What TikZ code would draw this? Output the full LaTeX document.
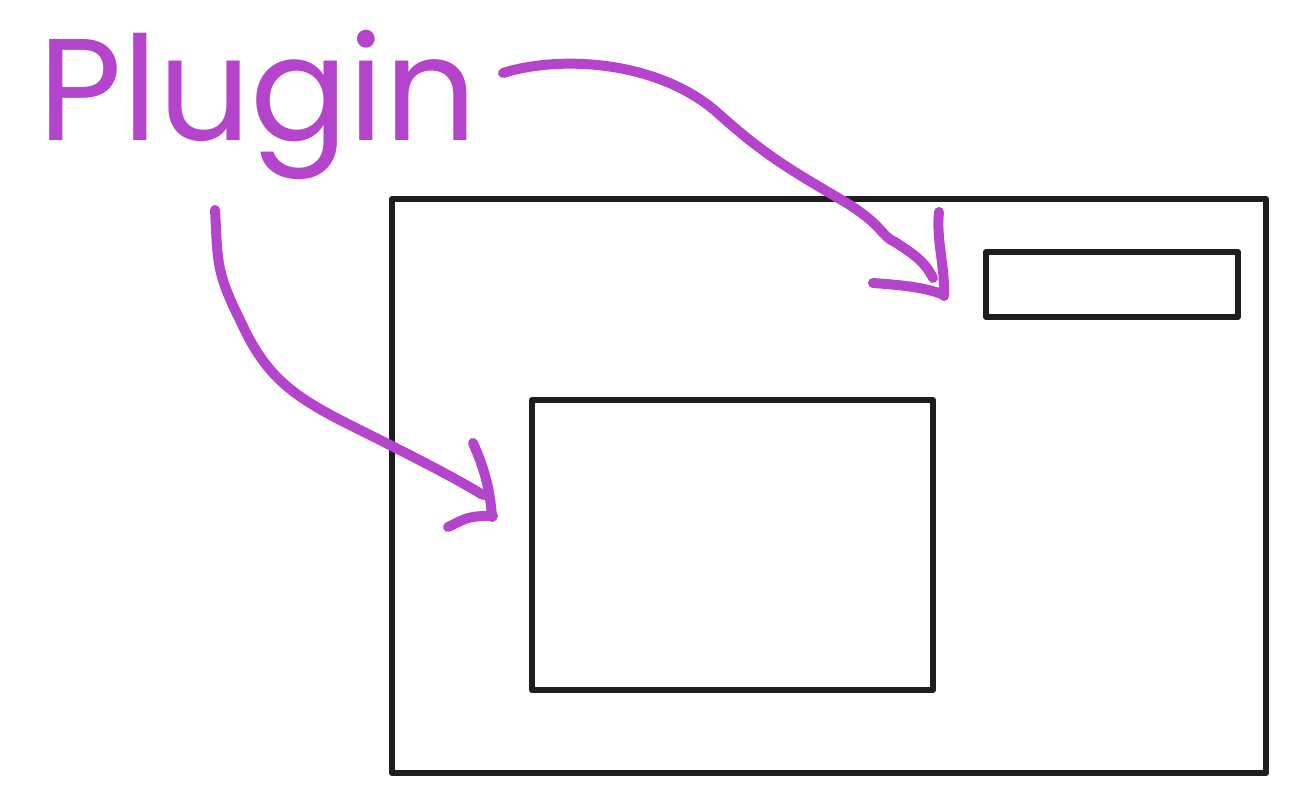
\documentclass[tikz,border=0pt]{standalone}
\usepackage{fontspec}
\newfontfamily\handfont{Poppins}
\definecolor{plug}{HTML}{B444CC}
\definecolor{ink}{HTML}{1E1E1E}
\begin{document}
\begin{tikzpicture}[x=1pt,y=-1pt,
  box/.style={draw=ink,line width=6pt,line join=round,outer sep=0pt,inner sep=0pt},
  pen/.style={draw=plug,line width=10pt,line cap=round,line join=round}]
\useasboundingbox (0,0) rectangle (1299,788);
\node[box,minimum width=874pt,minimum height=574pt,anchor=north west] (win) at (392,199) {};
\node[box,minimum width=401pt,minimum height=290pt,anchor=north west] (panel) at (532,400) {};
\node[box,minimum width=252pt,minimum height=65pt,anchor=north west] (bar) at (986,252) {};
\node[text=plug,font=\handfont\fontsize{145}{145}\selectfont,anchor=center] (label) at (258,105) {Plugin};
\coordinate (t0) at (503,73);
\coordinate (t1) at (933,278);
\coordinate (l0) at (215,210);
\coordinate (l1) at (483,495);
\draw[pen] (t0) .. controls (560,55) and (660,60) .. (720,115)
  .. controls (770,160) and (800,175) .. (850,205)
  .. controls (885,228) and (880,235) .. (895,242)
  .. controls (915,255) and (925,262) .. (t1);
\draw[pen] (939,212) .. controls (936,240) and (945,265) .. (944,296);
\draw[pen] (873,283) .. controls (900,285) and (925,287) .. (944,295);
\draw[pen] (l0) .. controls (218,260) and (215,270) .. (240,320)
  .. controls (265,375) and (290,395) .. (350,425)
  .. controls (410,455) and (450,475) .. (l1);
\draw[pen] (473,443) .. controls (485,470) and (490,490) .. (492,517);
\draw[pen] (448,527) .. controls (460,522) and (465,515) .. (493,516);
\end{tikzpicture}
\end{document}
